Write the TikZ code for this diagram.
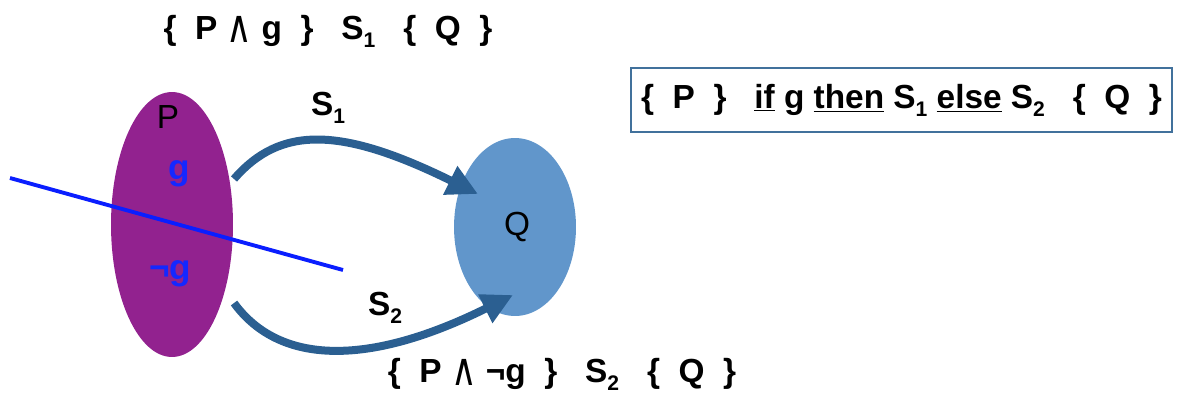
\documentclass[tikz,border=0pt]{standalone}
\usepackage{fontspec}
\usepackage{graphicx}
\setmainfont{Liberation Sans}
\newfontfamily\symf{DejaVu Sans}
\usetikzlibrary{arrows.meta,shapes.geometric}
\definecolor{pfill}{RGB}{146,34,143}
\definecolor{qfill}{RGB}{97,150,203}
\definecolor{arrc}{RGB}{43,95,145}
\definecolor{gblue}{RGB}{20,40,255}
\definecolor{lblue}{RGB}{10,30,255}
\definecolor{boxc}{RGB}{65,113,156}
\newcommand\mysub[1]{\raisebox{-0.45ex}{\fontsize{12}{12}\selectfont #1}}
\newcommand\myand{\raisebox{-0.2ex}{\scalebox{1.05}[1.35]{\symf\mdseries ∧}}}
\tikzset{
  formula/.style={font=\bfseries\fontsize{19}{22}\selectfont, inner sep=0pt},
  blob/.style={ellipse, inner sep=0pt, draw=none},
  plain/.style={font=\fontsize{19}{20}\selectfont, inner sep=0pt},
  glab/.style={font=\bfseries\fontsize{20}{20}\selectfont, text=gblue, inner sep=0pt},
  conn/.style={draw=arrc, line width=0.16cm, -{Triangle[length=0.62cm,width=0.6cm]}},
}
\begin{document}
\begin{tikzpicture}[x=0.02cm,y=-0.02cm]
\useasboundingbox (0,0) rectangle (1179,396);
% ellipses
\node[blob, fill=pfill, minimum width=2.44cm, minimum height=5.3cm] (P) at (172,224.5) {};
\node[blob, fill=qfill, minimum width=2.44cm, minimum height=3.56cm] (Q) at (515,227) {};
% dividing line
\coordinate (l1) at (10,178);
\coordinate (l2) at (343,270);
\draw[lblue, line width=2.2pt] (l1) -- (l2);
% labels in ellipses
\node[plain] (Plab) at (168,117) {P};
\node[glab] (g) at (179,174) {g};
\node[glab] (ng) at (170,274) {¬g};
\node[plain] (Qlab) at (517,227) {Q};
% arrows
\coordinate (s1a) at (234,179);
\coordinate (s1b) at (478,194);
\coordinate (s2a) at (234,303);
\coordinate (s2b) at (513,295);
\draw[conn] (s1a) .. controls (280,126) and (340,126) .. (s1b);
\draw[conn] (s2a) .. controls (280,366) and (370,366) .. (s2b);
\node[formula] (S1) at (328,108) {S\mysub{1}};
\node[formula] (S2) at (385,308) {S\mysub{2}};
% formulas
\node[formula] (top) at (328,31) {\{~~P~\myand~g~~\}~~~S\mysub{1}~~~\{~~Q~~\}};
\node[formula] (bot) at (562,374) {\{~~P~\myand~¬g~~\}~~~S\mysub{2}~~~\{~~Q~~\}};
\node[formula, draw=boxc, line width=1pt, minimum width=10.82cm, minimum height=1.28cm] (box) at (901.5,100)
  {\{~~P~~\}~~~\underline{if}~g~\underline{then}~S\mysub{1}~\underline{else}~S\mysub{2}~~~\{~~Q~~\}};
\end{tikzpicture}
\end{document}
